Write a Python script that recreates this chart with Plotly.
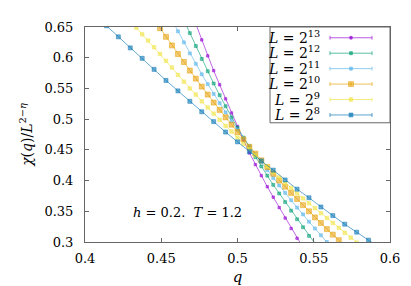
import plotly.graph_objects as go

# ---- data ----
SERIES_NAMES = ["<i>L</i> = 2<sup>13</sup>", "<i>L</i> = 2<sup>12</sup>", "<i>L</i> = 2<sup>11</sup>",
                "<i>L</i> = 2<sup>10</sup>", "<i>L</i> = 2<sup>9</sup>", "<i>L</i> = 2<sup>8</sup>"]

Q13 = [k / 256 for k in range(121, 140)]
V13 = [0.655, 0.629, 0.603, 0.579, 0.556, 0.533, 0.510, 0.488, 0.466, 0.445, 0.426, 0.408,
       0.390, 0.373, 0.356, 0.339, 0.322, 0.306, 0.291]

Q12 = [k / 256 for k in range(119, 143)]
V12 = [0.661, 0.640, 0.619, 0.598, 0.578, 0.558, 0.539, 0.521, 0.503, 0.486, 0.470, 0.454,
       0.438, 0.423, 0.408, 0.393, 0.379, 0.365, 0.351, 0.337, 0.324, 0.310, 0.297, 0.284]

Q11 = [k / 256 for k in range(117, 145)]
V11 = [0.661, 0.643, 0.625, 0.607, 0.590, 0.573, 0.557, 0.541, 0.526, 0.511, 0.497, 0.483,
       0.469, 0.456, 0.443, 0.430, 0.417, 0.404, 0.392, 0.380, 0.368, 0.356, 0.345, 0.333,
       0.322, 0.311, 0.300, 0.289]

Q10 = [k / 256 for k in range(114, 147)]
V10 = [0.662, 0.648, 0.634, 0.620, 0.606, 0.593, 0.579, 0.566, 0.553, 0.540, 0.527, 0.515,
       0.503, 0.491, 0.479, 0.467, 0.455, 0.444, 0.433, 0.422, 0.411, 0.400, 0.390, 0.380,
       0.370, 0.360, 0.350, 0.340, 0.331, 0.321, 0.312, 0.303, 0.294]

Q9 = [k / 256 for k in range(110, 150)]
V9 = [0.660, 0.649, 0.638, 0.628, 0.617, 0.606, 0.595, 0.584, 0.572, 0.561, 0.550, 0.540,
      0.529, 0.519, 0.509, 0.499, 0.489, 0.480, 0.470, 0.460, 0.451, 0.441, 0.432, 0.423,
      0.414, 0.405, 0.396, 0.388, 0.379, 0.371, 0.363, 0.355, 0.347, 0.339, 0.331, 0.323,
      0.315, 0.307, 0.299, 0.292]

Q8 = [k / 128 for k in range(53, 77)]
V8 = [0.652, 0.634, 0.616, 0.599, 0.581, 0.563, 0.546, 0.529, 0.512, 0.496, 0.479, 0.463,
      0.447, 0.432, 0.417, 0.401, 0.386, 0.372, 0.357, 0.343, 0.329, 0.316, 0.303, 0.290]

X_TICKS = [0.4, 0.45, 0.5, 0.55, 0.6]
X_TICK_LABELS = ["0.4", "0.45", "0.5", "0.55", "0.6"]
Y_TICKS = [0.3, 0.35, 0.4, 0.45, 0.5, 0.55, 0.6, 0.65]
Y_TICK_LABELS = ["0.3", "0.35", "0.4", "0.45", "0.5", "0.55", "0.6", "0.65"]

# ---- styles ----
COLORS = ["#9400d3", "#009e73", "#56b4e9", "#e69f00", "#f0e442", "#0072b2"]
MSIZE = [2.5, 3, 3, 5, 3.5, 4]
MSYM = ["square", "square", "square", "square", "square", "square"]
FONT = "DejaVu Serif"

def rgba(h, a):
    h = h.lstrip("#")
    return "rgba(%d,%d,%d,%.2f)" % (int(h[0:2], 16), int(h[2:4], 16), int(h[4:6], 16), a)

data = [(Q13, V13), (Q12, V12), (Q11, V11), (Q10, V10), (Q9, V9), (Q8, V8)]

fig = go.Figure()
for (q, v), name, c, ms, sym in zip(data, SERIES_NAMES, COLORS, MSIZE, MSYM):
    fig.add_trace(go.Scatter(
        x=q, y=v, mode="lines+markers", name=name, showlegend=False,
        line=dict(color=rgba(c, 0.6), width=1),
        marker=dict(color=rgba(c, 0.55), size=ms, symbol=sym,
                    line=dict(color=rgba(c, 0.8), width=0.6)),
    ))

# ---- custom gnuplot-style legend (text left, sample right) ----
PL, PR, PT, PB = 77, 382, 15, 235
def px2paper_x(px):
    return (px - PL) / (PR - PL)
def py2paper_y(py):
    return (PB - py) / (PB - PT)

shapes = [dict(type="rect", xref="paper", yref="paper",
               x0=px2paper_x(262), x1=1, y0=py2paper_y(113), y1=1,
               line=dict(color="#666", width=1), fillcolor="white", layer="above")]
annotations = []
for i, (name, c, ms) in enumerate(zip(SERIES_NAMES, COLORS, MSIZE)):
    py = 26 + 15.8 * i
    yp = py2paper_y(py)
    annotations.append(dict(xref="paper", yref="paper", x=px2paper_x(314), y=py2paper_y(py - 1),
                            text=name, showarrow=False, xanchor="right", yanchor="middle",
                            font=dict(family=FONT, size=14, color="black")))
    col = rgba(c, 0.65)
    shapes.append(dict(type="line", xref="paper", yref="paper",
                       x0=px2paper_x(322), x1=px2paper_x(364), y0=yp, y1=yp,
                       line=dict(color=col, width=1), layer="above"))
    for ex in (322, 364, 343):
        shapes.append(dict(type="line", xref="paper", yref="paper",
                           x0=px2paper_x(ex), x1=px2paper_x(ex),
                           y0=py2paper_y(py - 2), y1=py2paper_y(py + 2),
                           line=dict(color=col, width=1), layer="above"))
    hs = ms / 2
    shapes.append(dict(type="rect", xref="paper", yref="paper",
                       x0=px2paper_x(343 - hs), x1=px2paper_x(343 + hs),
                       y0=py2paper_y(py + hs), y1=py2paper_y(py - hs),
                       line=dict(color=rgba(c, 0.8), width=0.6), fillcolor=rgba(c, 0.55),
                       layer="above"))

annotations.append(dict(xref="x", yref="y", x=0.4669, y=0.3477,
                        text="<i>h</i> = 0.2.  <i>T</i> = 1.2", showarrow=False,
                        font=dict(family=FONT, size=13, color="black")))

axis_common = dict(showgrid=False, zeroline=False, showline=True, linecolor="#666",
                   linewidth=1, mirror="ticks", ticks="inside", ticklen=4,
                   tickcolor="#666", tickfont=dict(family=FONT, size=13, color="black"))

fig.update_layout(
    width=411, height=286,
    margin=dict(l=PL, r=411 - PR, t=PT, b=286 - PB),
    plot_bgcolor="white", paper_bgcolor="white",
    shapes=shapes, annotations=annotations,
    xaxis=dict(range=[0.4, 0.6], tickvals=X_TICKS, ticktext=X_TICK_LABELS,
               title=dict(text="<i>q</i>", font=dict(family=FONT, size=15, color="black"), standoff=6),
               ticklabelstandoff=4, **axis_common),
    yaxis=dict(range=[0.3, 0.65], tickvals=Y_TICKS, ticktext=Y_TICK_LABELS,
               title=dict(text="<i>χ</i>(<i>q</i>)/<i>L</i><sup>2−<i>η</i></sup>",
                          font=dict(family=FONT, size=14, color="black"), standoff=8),
               ticklabelstandoff=8, **axis_common),
)

fig.write_html("out.html")
